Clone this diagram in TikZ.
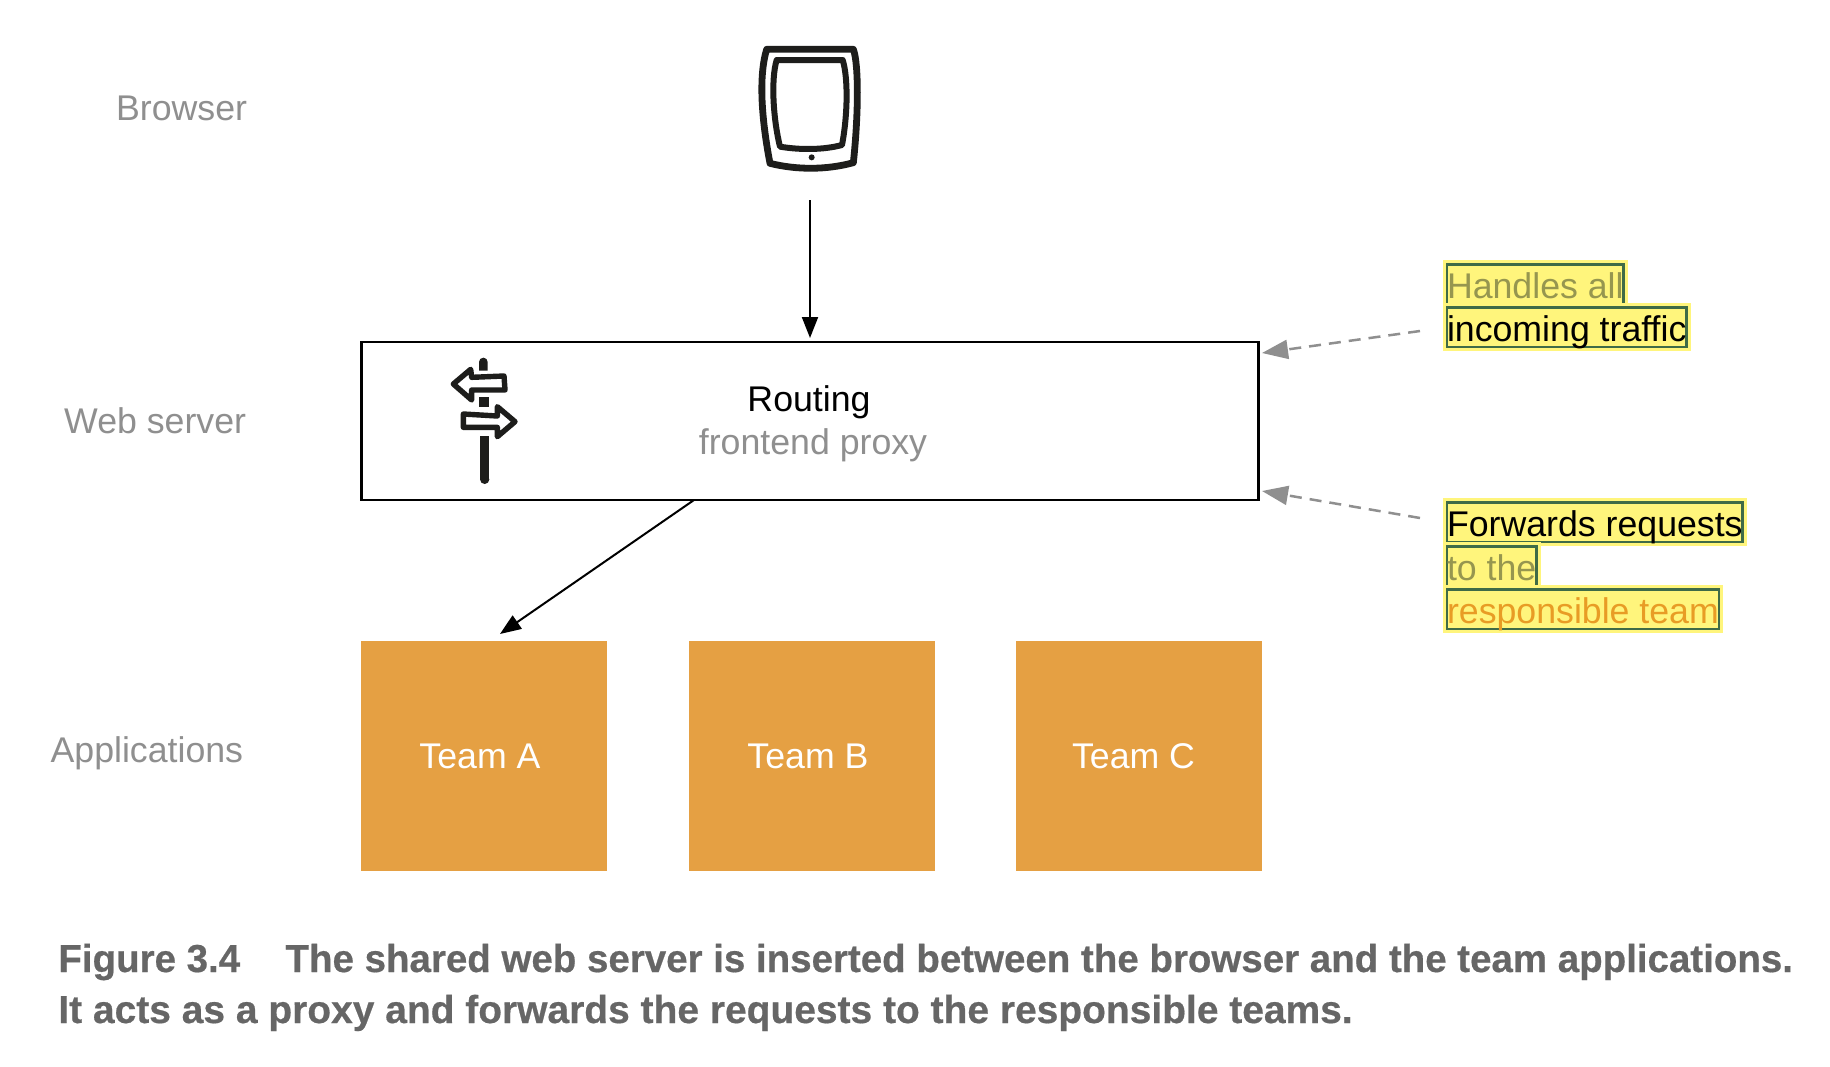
\documentclass[tikz,border=0pt]{standalone}
\usepackage{fontspec}
\setmainfont{Liberation Sans}
\newfontfamily\capfont[FakeBold=0.5]{Liberation Sans Bold}
\usetikzlibrary{arrows.meta}
\definecolor{labelgray}{HTML}{8F8F8F}
\definecolor{teamorange}{HTML}{E5A043}
\definecolor{capgray}{HTML}{666666}
\definecolor{hlyellow}{HTML}{FFF57C}
\definecolor{hlgreen}{HTML}{3F6B47}
\definecolor{hlgraytext}{HTML}{96964F}
\definecolor{hlorange}{HTML}{E89C25}
\definecolor{iconblack}{HTML}{1D1D1B}
\tikzset{
  x=0.5pt,y=-0.5pt,
  base font/.style={font=\fontsize{17.85}{21}\selectfont},
  rowlabel/.style={base font,text=labelgray,anchor=base east,inner sep=0pt},
  boxtext/.style={base font,anchor=base,inner sep=0pt},
  teambox/.style={fill=teamorange,draw=none,minimum width=123pt,minimum height=115pt,inner sep=0pt,outer sep=0pt},
  hl/.style={base font,anchor=base west,inner xsep=0pt,inner ysep=0pt,text height=16.7pt,text depth=2.9pt,outer sep=0pt,
     fill=hlyellow,draw=hlgreen,line width=1.3pt,
     preaction={draw=hlyellow,line width=4.4pt}},
  blackarrow/.style={-{Triangle[length=10.5pt,width=8pt]},line width=1pt,black},
  grayarrow/.style={-{Triangle[length=13pt,width=9.5pt]},line width=1.25pt,labelgray,dash pattern=on 6pt off 4pt},
  icon/.style={draw=iconblack,line join=round,line cap=round},
  caption/.style={anchor=base west,inner sep=0pt,text=capgray,font=\fontsize{19.5}{26}\capfont},
}
\begin{document}
\begin{tikzpicture}
\useasboundingbox (0,0) rectangle (1830,1066);
\fill[white] (0,0) rectangle (1830,1066);

% row labels
\node[rowlabel] (lbrowser) at (247.5,120) {Browser};
\node[rowlabel] (lweb) at (246.5,433) {Web server};
\node[rowlabel] (lapps) at (243.5,762) {Applications};

% tablet icon
\node[minimum width=110pt,minimum height=90pt,inner sep=0pt] (tablet) at (810,110) {};
\begin{scope}[shift={(720,20)},x=0.16667pt,y=-0.16667pt]
  \draw[icon,line width=3.4pt] (140,88) -- (400,88) .. controls (416,130) and (416,280) .. (400,428)
     .. controls (320,450) and (230,450) .. (150,430) .. controls (125,300) and (115,170) .. (140,88) -- cycle;
  \draw[icon,line width=3pt] (170,120) -- (368,120) .. controls (384,170) and (384,280) .. (366,375)
     .. controls (310,390) and (240,390) .. (180,380) .. controls (160,300) and (152,180) .. (170,120) -- cycle;
  \fill[iconblack] (275,412) circle (1.5pt);
\end{scope}

% routing box
\node[draw=black,line width=1.1pt,minimum width=448.5pt,minimum height=79pt,inner sep=0pt,outer sep=0pt] (router) at (810,421) {};
\node[boxtext,text=black] (routing) at (809,411) {Routing};
\node[boxtext,text=labelgray] (proxy) at (813,454) {frontend proxy};

% signpost icon
\begin{scope}[shift={(420,340)},x=0.16667pt,y=-0.16667pt]
  \fill[iconblack] (177,66) arc[start angle=180,end angle=0,radius=2.17pt] -- (203,92) -- (177,92) -- cycle;
  \fill[iconblack] (178,172) rectangle (207,200);
  \fill[iconblack] (180,288) rectangle (208,418);
  \fill[iconblack] (194,418) circle (2.33pt);
  \draw[icon,line width=2.7pt] (100,132) -- (152,88) -- (155,112) -- (252,108) -- (255,150) -- (155,150) -- (155,180) -- cycle;
  \draw[icon,line width=2.7pt] (130,222) -- (232,228) -- (232,200) -- (285,245) -- (232,290) -- (232,262) -- (130,262) -- cycle;
\end{scope}

% team boxes
\node[teambox] (teama) at (484,756) {};
\node[teambox] (teamb) at (812,756) {};
\node[teambox] (teamc) at (1138.5,756) {};
\node[boxtext,text=white] (ta) at (480,768) {Team A};
\node[boxtext,text=white] (tb) at (808,768) {Team B};
\node[boxtext,text=white] (tc) at (1133.5,768) {Team C};

% black connectors
\draw[blackarrow,shorten >=2pt] (tablet.south) -- (router.north);
\coordinate (dstart) at (694,500);
\coordinate (dend) at (500,634);
\draw[blackarrow] (dstart) -- (dend);

% highlighted notes
\node[hl,text=hlgraytext] (n1) at (1447,298) {Handles all};
\node[hl,text=black] (n2) at (1447,341) {incoming traffic};
\node[hl,text=black] (n3) at (1447,536) {Forwards requests};
\node[hl,text=hlgraytext] (n4) at (1447,580) {to the};
\node[hl,text=hlorange] (n5) at (1447,623) {responsible team};

% dashed connectors
\coordinate (a1s) at (1420,331);
\coordinate (a1e) at (1262,353);
\coordinate (a2s) at (1420,518);
\coordinate (a2e) at (1262,491);
\draw[grayarrow] (a1s) -- (a1e);
\draw[grayarrow] (a2s) -- (a2e);

% caption
\node[caption] (cap1) at (58,972) {\scalebox{0.9866}[1]{Figure 3.4\hspace{1.18em}The shared web server is inserted between the browser and the team applications.}};
\node[caption] (cap2) at (58,1023) {\scalebox{0.9987}[1]{It acts as a proxy and forwards the requests to the responsible teams.}};
\end{tikzpicture}
\end{document}
